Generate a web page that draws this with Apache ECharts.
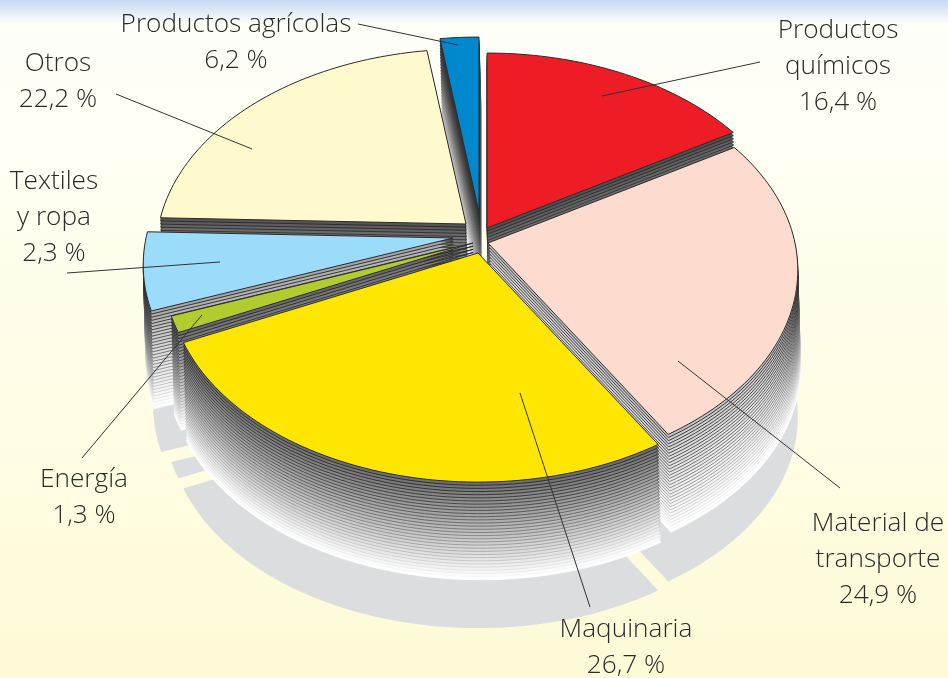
<!DOCTYPE html>
<html>
<head>
<meta charset="utf-8">
<script src="https://cdn.jsdelivr.net/npm/echarts@6/dist/echarts.min.js"></script>
<style>
  html, body { margin: 0; padding: 0; }
  #chart { width: 948px; height: 678px; }
</style>
</head>
<body>
<div id="chart"></div>
<script>
// clockwise from 12 o'clock, as drawn
const categories = ['Productos químicos', 'Material de transporte', 'Maquinaria', 'Energía', 'Textiles y ropa', 'Otros', 'Productos agrícolas'];
// the printed labels swap agrícolas and textiles, the wedges are drawn 2,3 / 6,2
const drawnValues = [16.4, 24.9, 26.7, 1.3, 6.2, 22.2, 2.3];
const labelTexts = ['16,4 %', '24,9 %', '26,7 %', '1,3 %', '2,3 %', '22,2 %', '6,2 %'];
const sliceColors = ['#ee1c25', '#fddbcf', '#ffe600', '#b2cb2e', '#9adcfa', '#fffacd', '#0088cf'];

// where each wedge's tip sits after being pulled out
const tips = [[487, 228], [488, 243], [478, 253], [473, 243], [453, 238], [466, 224], [479, 212]];
// wall shading per wedge: darkest grey and how fast it goes to white
const wallBase = [80, 195, 110, 105, 165, 85, 125];
const wallFade = [0.9, 0.55, 0.9, 0.8, 0.65, 0.9, 0.8];
const shadowShift = [[0, 146], [0, 147], [0, 146], [0, 146], [10, 141], [0, 146], [0, 146]];
const drawOrder = [6, 5, 0, 1, 4, 3, 2];

const radiusX = 307, radiusY = 198.4, perspective = 0.134;
const layers = 31, layerGap = 3.15, layerDrift = 0.09;

const total = drawnValues.reduce((a, b) => a + b, 0);

function mix(a, t) {
  const v = Math.round(a + (255 - a) * t);
  return 'rgb(' + v + ',' + v + ',' + v + ')';
}

// outline of one wedge on the tilted disc
function wedge(i, dx, dy) {
  let start = 0;
  for (let k = 0; k < i; k++) start += drawnValues[k];
  const a0 = start / total * Math.PI * 2;
  const a1 = (start + drawnValues[i]) / total * Math.PI * 2;
  const tx = tips[i][0] + dx, ty = tips[i][1] + dy;
  const pts = [[tx, ty]];
  const steps = Math.max(6, Math.round((a1 - a0) * 40));
  for (let s = 0; s <= steps; s++) {
    const a = a0 + (a1 - a0) * s / steps;
    const w = 1 + perspective * Math.cos(a);
    pts.push([tx + radiusX * Math.sin(a) / w, ty - radiusY * Math.cos(a) / w]);
  }
  return pts;
}

function renderShadow(params) {
  const i = drawOrder[params.dataIndex];
  return {
    type: 'polygon',
    shape: { points: wedge(i, shadowShift[i][0], shadowShift[i][1]) },
    style: { fill: '#dcddde' },
    silent: true
  };
}

function renderSlice(params) {
  const i = drawOrder[params.dataIndex];
  const children = [];
  for (let n = layers; n >= 1; n--) {
    const t = (n - 1) / (layers - 1);
    children.push({
      type: 'polygon',
      shape: { points: wedge(i, n * layerDrift, n * layerGap) },
      style: {
        fill: mix(wallBase[i], Math.pow(t, wallFade[i])),
        stroke: mix(40, Math.pow(t, 1.4)),
        lineWidth: 0.9
      }
    });
  }
  children.push({
    type: 'polygon',
    shape: { points: wedge(i, 0, 0) },
    style: { fill: sliceColors[i], stroke: '#2b2b2b', lineWidth: 1, lineJoin: 'round' }
  });
  return { type: 'group', children: children, silent: true };
}

// label blocks: lines, centre x, first line centre y
const labelBlocks = [
  [['Productos', 'químicos', labelTexts[0]], 838, 31],
  [['Material de', 'transporte', labelTexts[1]], 878, 524],
  [['Maquinaria', labelTexts[2]], 626, 630],
  [['Energía', labelTexts[3]], 84, 480],
  [['Textiles', 'y ropa', labelTexts[4]], 54, 182],
  [['Otros', labelTexts[5]], 58, 64],
  [['Productos agrícolas', labelTexts[6]], 236, 25]
];
const leaders = [
  [760, 62, 602, 96],
  [840, 488, 678, 361],
  [590, 607, 520, 393],
  [82, 458, 202, 315],
  [67, 273, 220, 262],
  [116, 94, 252, 149],
  [358, 24, 458, 45]
];

const graphicItems = [];
labelBlocks.forEach(function (b) {
  b[0].forEach(function (line, k) {
    graphicItems.push({
      type: 'text', x: b[1], y: b[2] + k * 36, z: 100,
      style: {
        text: line, fill: '#2a2a2a', font: '300 26.2px "Open Sans", sans-serif',
        textAlign: 'center', textVerticalAlign: 'middle'
      }
    });
  });
});
leaders.forEach(function (l) {
  graphicItems.push({
    type: 'line', z: 100,
    shape: { x1: l[0], y1: l[1], x2: l[2], y2: l[3] },
    style: { stroke: '#333', lineWidth: 1 }
  });
});

const chart = echarts.init(document.getElementById('chart'), null, { renderer: 'canvas' });
chart.setOption({
  animation: false,
  backgroundColor: new echarts.graphic.LinearGradient(0, 0, 0, 1, [
    { offset: 0, color: '#c3d8f0' },
    { offset: 0.034, color: '#fefefa' },
    { offset: 0.2, color: '#fffff4' },
    { offset: 1, color: '#fefad6' }
  ]),
  graphic: { elements: graphicItems },
  series: [
    { type: 'custom', coordinateSystem: 'none', z: 1, renderItem: renderShadow, data: drawOrder.map(i => drawnValues[i]) },
    { type: 'custom', coordinateSystem: 'none', z: 2, renderItem: renderSlice, data: drawOrder.map(i => drawnValues[i]) }
  ]
});
</script>
</body>
</html>
